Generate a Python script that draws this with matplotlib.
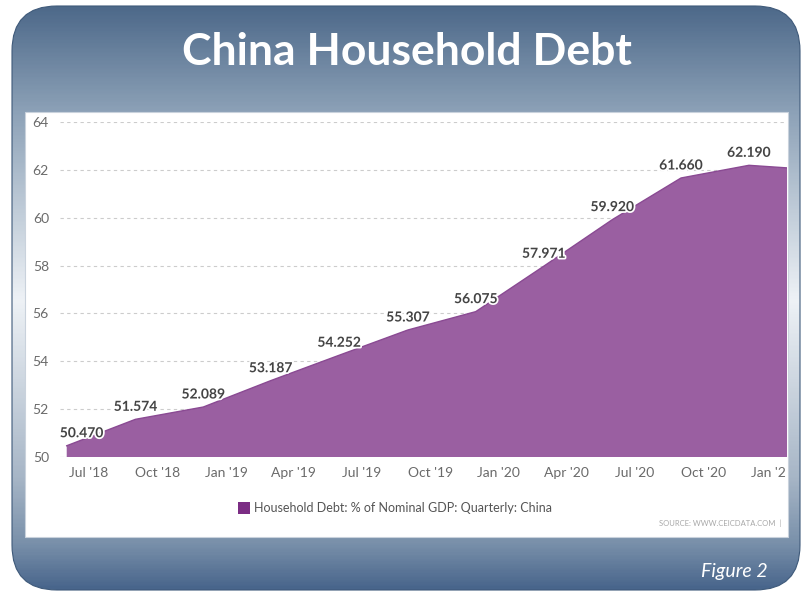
import numpy as np
import matplotlib
matplotlib.use("Agg")
import matplotlib.pyplot as plt
import matplotlib.dates as mdates
import matplotlib.patheffects as pe
from matplotlib.patches import FancyBboxPatch, Rectangle
from matplotlib.colors import LinearSegmentedColormap
import pandas as pd

# ---------------- data ----------------
dates = ["2018-06-01", "2018-09-01", "2018-12-01", "2019-03-01", "2019-06-01",
         "2019-09-01", "2019-12-01", "2020-03-01", "2020-06-01", "2020-09-01",
         "2020-12-01", "2021-03-01"]
values = [50.470, 51.574, 52.089, 53.187, 54.252, 55.307, 56.075, 57.971,
          59.920, 61.660, 62.190, 62.000]
labels = ["50.470", "51.574", "52.089", "53.187", "54.252", "55.307", "56.075",
          "57.971", "59.920", "61.660", "62.190", ""]
tick_dates = ["2018-07-01", "2018-10-01", "2019-01-01", "2019-04-01", "2019-07-01",
              "2019-10-01", "2020-01-01", "2020-04-01", "2020-07-01", "2020-10-01",
              "2021-01-01"]
tick_labels = ["Jul '18", "Oct '18", "Jan '19", "Apr '19", "Jul '19", "Oct '19",
               "Jan '20", "Apr '20", "Jul '20", "Oct '20", "Jan '21"]
y_ticks = [50, 52, 54, 56, 58, 60, 62, 64]
title = "China Household Debt"
legend_label = "Household Debt: % of Nominal GDP: Quarterly: China"
source = "SOURCE: WWW.CEICDATA.COM  |"
figure_label = "Figure 2"

x = pd.to_datetime(dates)
xt = pd.to_datetime(tick_dates)

W, H = 807, 592
fig = plt.figure(figsize=(W / 100, H / 100), dpi=100)
fig.patch.set_facecolor("white")

# ---------------- background frame ----------------
bg = fig.add_axes([0, 0, 1, 1])
bg.set_xlim(0, W)
bg.set_ylim(H, 0)
bg.axis("off")
cmap = LinearSegmentedColormap.from_list("frame", [
    (0.0, "#4a6687"),
    (110 / H, "#8ca1b7"),
    (300 / H, "#eef2f6"),
    (480 / H, "#a6b5c6"),
    (545 / H, "#7990aa"),
    (1.0, "#46638a"),
])
grad = np.linspace(0, 1, 400).reshape(-1, 1)
im = bg.imshow(grad, cmap=cmap, aspect="auto", extent=[0, W, H, 0], zorder=0)
frame = FancyBboxPatch((12 + 45, 6 + 45), 788 - 90, 584 - 90,
                       boxstyle="round,pad=45", transform=bg.transData,
                       facecolor="none", edgecolor="#3f5a7a", lw=0.8, zorder=2)
bg.add_patch(frame)
im.set_clip_path(frame)
# white chart panel
panel = Rectangle((25, 112), 763, 425, facecolor="white",
                  edgecolor="#c9d2dc", lw=0.8, zorder=3)
bg.add_patch(panel)

bg.text(W / 2 + 3, 52, title, ha="center", va="center", color="white",
        fontsize=32, fontweight="bold", family="Lato", zorder=5)
bg.text(768, 571, figure_label, ha="right", va="center", color="white",
        fontsize=14, style="italic", family="Lato", zorder=5)

# legend
bg.add_patch(Rectangle((238, 502), 12, 12, facecolor="#7b2d84",
                       edgecolor="none", zorder=5))
bg.text(254, 508, legend_label, ha="left", va="center", color="#555555",
        fontsize=9, family="Lato", zorder=5)
bg.text(781, 523, source, ha="right", va="center", color="#a8a8a8",
        fontsize=5.5, family="Lato", zorder=5)

# ---------------- chart ----------------
ax = fig.add_axes([60 / W, 1 - 457 / H, (787 - 60) / W, (457 - 122) / H])
ax.set_zorder(4)
ax.patch.set_alpha(0)
ax.fill_between(x, 50, values, facecolor="#9a5fa1", edgecolor="none", zorder=2)
ax.plot(x, values, color="#8a4a93", lw=1.0, zorder=3)

ax.set_xlim(pd.Timestamp("2018-05-23"), pd.Timestamp("2021-01-21"))
ax.set_ylim(50, 64)
ax.set_yticks(y_ticks)
ax.set_xticks(xt)
ax.set_xticklabels(tick_labels)
for s in ax.spines.values():
    s.set_visible(False)
ax.grid(axis="y", color="#cccccc", lw=0.8, ls=(0, (3, 3)), zorder=1)
ax.axhline(50, color="#dddddd", lw=0.8, zorder=1)
ax.tick_params(axis="both", length=0, labelsize=10, colors="#6a6a6a")
ax.tick_params(axis="x", pad=7)
ax.tick_params(axis="y", pad=8)
for t in ax.get_xticklabels() + ax.get_yticklabels():
    t.set_family("Lato")
# tick labels are cut off at the right edge of the white panel
clip_rect = Rectangle((25, 112), 762, 425, transform=bg.transData)
for t in ax.get_xticklabels():
    t.set_clip_on(True)
    t.set_clip_path(clip_rect)

for i, (xi, v, lab) in enumerate(zip(x, values, labels)):
    if not lab:
        continue
    if i == 0:
        ha, dx = "left", -5
    else:
        ha, dx = "center", 0
    ax.annotate(lab, (xi, v), xytext=(dx, 9), textcoords="offset points",
                ha=ha, va="center", fontsize=10, fontweight="bold",
                color="#444444", family="Lato", zorder=6,
                path_effects=[pe.withStroke(linewidth=2.5, foreground="white")])

fig.savefig("out.png", dpi=100)
